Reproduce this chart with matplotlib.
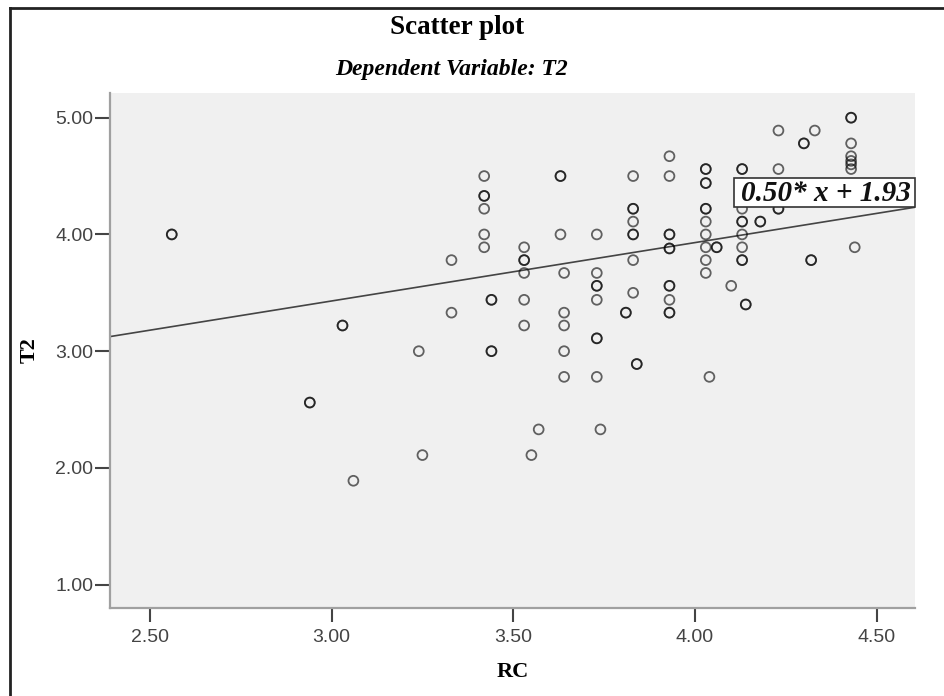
import numpy as np
import matplotlib.pyplot as plt
from matplotlib.lines import Line2D
from matplotlib.patches import Rectangle

# unique (RC, T2) points, n = how many cases sit on the same spot
rc = [2.56, 2.94, 3.03, 3.06, 3.24, 3.25, 3.33, 3.33,
      3.42, 3.42, 3.42, 3.42, 3.42, 3.44, 3.44,
      3.53, 3.53, 3.53, 3.53, 3.53, 3.55, 3.57,
      3.63, 3.63, 3.64, 3.64, 3.64, 3.64, 3.64,
      3.73, 3.73, 3.73, 3.73, 3.73, 3.73, 3.74,
      3.81, 3.83, 3.83, 3.83, 3.83, 3.83, 3.83, 3.84,
      3.93, 3.93, 3.93, 3.93, 3.93, 3.93, 3.93,
      4.03, 4.03, 4.03, 4.03, 4.03, 4.03, 4.03, 4.03, 4.04, 4.06, 4.10,
      4.13, 4.13, 4.13, 4.13, 4.13, 4.13, 4.13, 4.13, 4.14, 4.18,
      4.23, 4.23, 4.23, 4.30, 4.32, 4.33,
      4.43, 4.43, 4.43, 4.43, 4.43, 4.43, 4.44]
t2 = [4.00, 2.56, 3.22, 1.89, 3.00, 2.11, 3.78, 3.33,
      4.50, 4.33, 4.22, 4.00, 3.89, 3.44, 3.00,
      3.89, 3.78, 3.67, 3.44, 3.22, 2.11, 2.33,
      4.50, 4.00, 3.67, 3.33, 3.22, 3.00, 2.78,
      4.00, 3.67, 3.56, 3.44, 3.11, 2.78, 2.33,
      3.33, 4.50, 4.22, 4.11, 4.00, 3.78, 3.50, 2.89,
      4.67, 4.50, 4.00, 3.88, 3.56, 3.44, 3.33,
      4.56, 4.44, 4.22, 4.11, 4.00, 3.89, 3.78, 3.67, 2.78, 3.89, 3.56,
      4.56, 4.44, 4.33, 4.22, 4.11, 4.00, 3.89, 3.78, 3.40, 4.11,
      4.89, 4.56, 4.22, 4.78, 3.78, 4.89,
      5.00, 4.78, 4.67, 4.63, 4.60, 4.56, 3.89]
n = [2, 2, 2, 1, 1, 1, 1, 1,
     1, 2, 1, 1, 1, 2, 2,
     1, 2, 1, 1, 1, 1, 1,
     2, 1, 1, 1, 1, 1, 1,
     1, 1, 2, 1, 2, 1, 1,
     2, 1, 2, 1, 2, 1, 1, 2,
     1, 1, 2, 2, 2, 1, 2,
     2, 2, 2, 1, 1, 1, 1, 1, 1, 2, 1,
     2, 1, 1, 1, 2, 1, 1, 2, 2, 2,
     1, 1, 2, 2, 2, 1,
     2, 1, 1, 1, 1, 1, 1]

slope = 0.50
intercept = 1.93

x_ticks = [2.5, 3.0, 3.5, 4.0, 4.5]
y_ticks = [1.0, 2.0, 3.0, 4.0, 5.0]

x = np.repeat(rc, n)
y = np.repeat(t2, n)

fig = plt.figure(figsize=(9.45, 6.96), dpi=100)
ax = fig.add_axes([0.1164, 0.1264, 0.8519, 0.7404])
ax.set_facecolor('#f0f0f0')
ax.set_xlim(2.39, 4.606)
ax.set_ylim(0.80, 5.214)

ax.scatter(x, y, s=50, facecolors='none', edgecolors='black', linewidths=1.3,
           alpha=0.6, zorder=3)

# fit line across the whole axis
xl = np.array(ax.get_xlim())
ax.plot(xl, slope * xl + intercept, color='#444444', lw=1.2, zorder=2)

# equation label, bottom-right corner on the line end
x_end = xl[1]
y_end = slope * x_end + intercept
bw, bh = 0.498, 0.248
ax.add_patch(Rectangle((x_end - bw, y_end), bw, bh, facecolor='white',
                       edgecolor='#333333', lw=1.2, zorder=5, clip_on=False))
ax.text(x_end - bw / 2 + 0.005, y_end + bh / 2 - 0.005, '%.2f* x + %.2f' % (slope, intercept),
        ha='center', va='center', fontsize=21, fontweight='bold', fontstyle='italic',
        family='Liberation Serif', color='#111111', zorder=6)

for side in ['top', 'right']:
    ax.spines[side].set_visible(False)
for side in ['left', 'bottom']:
    ax.spines[side].set_color('#a0a0a0')
    ax.spines[side].set_linewidth(1.6)

ax.set_xticks(x_ticks)
ax.set_yticks(y_ticks)
ax.set_xticklabels(['%.2f' % v for v in x_ticks])
ax.set_yticklabels(['%.2f' % v for v in y_ticks])
ax.tick_params(axis='x', length=10, width=1.5, color='#444444', pad=5,
               labelsize=14, labelcolor='#444444')
ax.tick_params(axis='y', length=11, width=1.5, color='#444444', pad=1,
               labelsize=14, labelcolor='#444444')
for lab in ax.get_xticklabels() + ax.get_yticklabels():
    lab.set_family('Liberation Sans')

ax.set_xlabel('RC', fontsize=16, fontweight='bold', family='Liberation Serif')
ax.set_ylabel('T2', fontsize=16, fontweight='bold', family='Liberation Serif')
ax.xaxis.set_label_coords(0.5, -0.105)
ax.yaxis.set_label_coords(-0.087, 0.5)

fig.text(457 / 945, 1 - 28 / 696, 'Scatter plot', ha='center', va='center',
         fontsize=19.5, fontweight='bold', family='Liberation Serif')
fig.text(452 / 945, 1 - 70 / 696, 'Dependent Variable: T2', ha='center', va='center',
         fontsize=17, fontweight='bold', fontstyle='italic', family='Liberation Serif')

# outer frame (only top and left edges show)
fig.add_artist(Line2D([10 / 945, 1.0], [1 - 8 / 696, 1 - 8 / 696],
                      transform=fig.transFigure, color='#222222', lw=2))
fig.add_artist(Line2D([10 / 945, 10 / 945], [0.0, 1 - 8 / 696],
                      transform=fig.transFigure, color='#222222', lw=2))

fig.savefig('out.png', dpi=100, facecolor='white')
